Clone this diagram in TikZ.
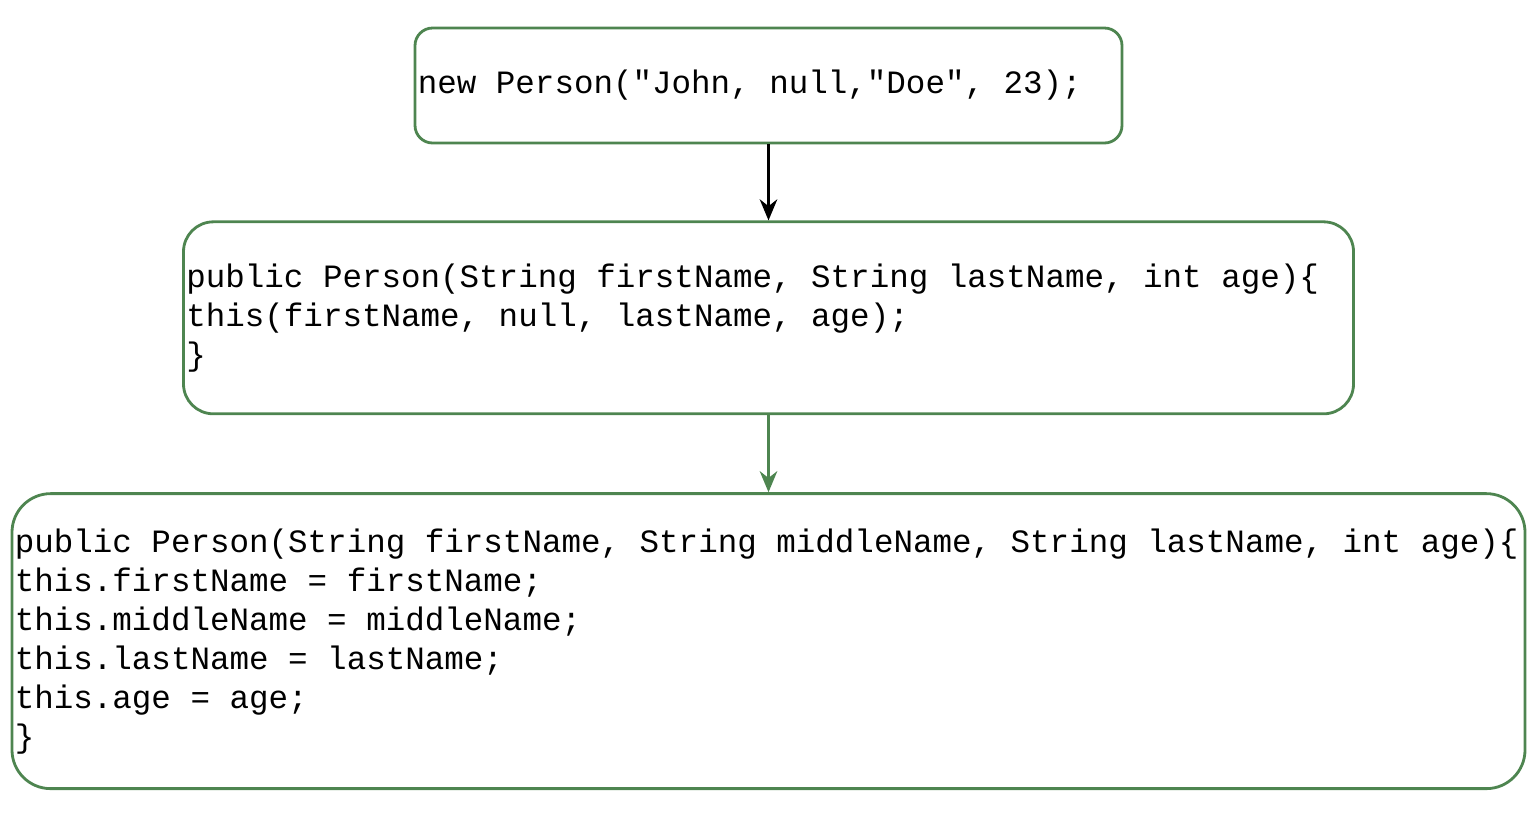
\documentclass[tikz,border=0pt]{standalone}
\usepackage{fontspec}
\setmonofont{Liberation Mono}
\usetikzlibrary{positioning, arrows.meta}
\definecolor{boxgreen}{HTML}{4E8550}

\begin{document}
\begin{tikzpicture}[
  frame/.style={draw=boxgreen, line width=0.8pt},
  code/.style={align=left, inner sep=0pt, anchor=west,
    font=\ttfamily\fontsize{9.26}{11.1}\selectfont},
  link/.style={-{Stealth[length=6pt,width=5pt]}, line width=0.8pt}
]
  \useasboundingbox (0,0) rectangle (15.36,-8.19);

  % call site
  \node[frame, rounded corners=5pt, minimum width=7.07cm, minimum height=1.15cm]
    (call) at (7.685,-0.855) {};
  \node[code] (callText) at ([xshift=1pt]call.west)
    {new Person("John, null,"Doe", 23);};

  % three argument constructor
  \node[frame, rounded corners=8.5pt, minimum width=11.70cm, minimum height=1.92cm,
    below=0.76cm of call] (ctorA) {};
  \node[code] (ctorAText) at ([xshift=1pt]ctorA.west)
    {public Person(String firstName, String lastName, int age)\{\\
     this(firstName, null, lastName, age);\\
     \}};

  % four argument constructor
  \node[frame, rounded corners=11pt, minimum width=15.13cm, minimum height=2.95cm,
    below=0.77cm of ctorA] (ctorB) {};
  \node[code] (ctorBText) at ([xshift=1pt]ctorB.west)
    {public Person(String firstName, String middleName, String lastName, int age)\{\\
     this.firstName = firstName;\\
     this.middleName = middleName;\\
     this.lastName = lastName;\\
     this.age = age;\\
     \}};

  \draw[link] (call) -- (ctorA);
  \draw[link, draw=boxgreen, fill=boxgreen] (ctorA) -- (ctorB);
\end{tikzpicture}
\end{document}
